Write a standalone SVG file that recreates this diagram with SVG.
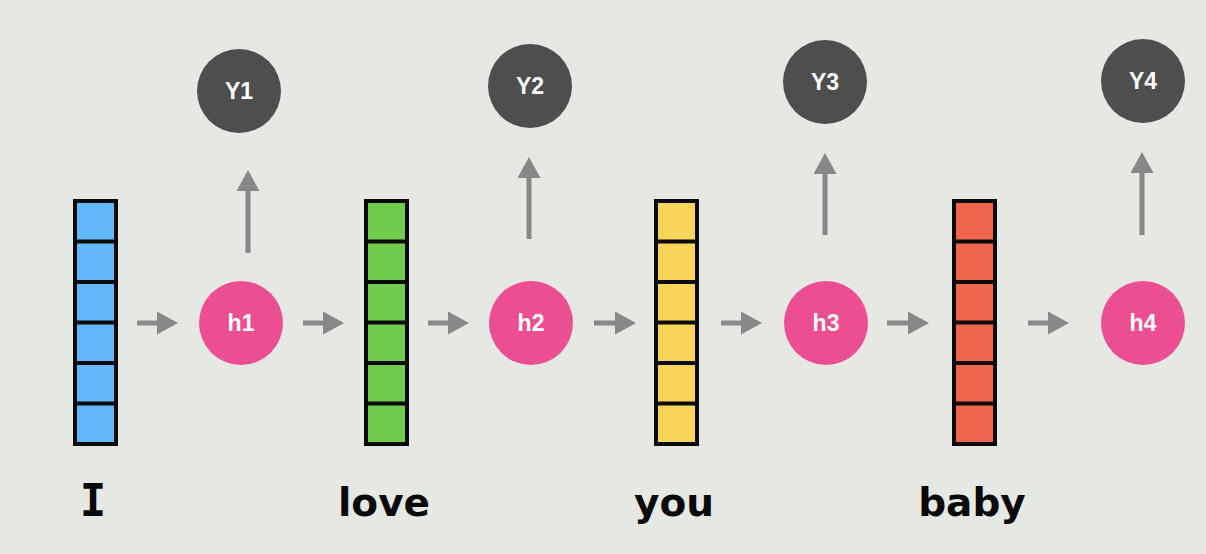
<svg xmlns="http://www.w3.org/2000/svg" width="1206" height="554" viewBox="0 0 1206 554">
<defs>
<marker id="ah" markerUnits="userSpaceOnUse" markerWidth="22" markerHeight="23" refX="3" refY="11.5" orient="auto">
<path d="M0,0 L21,11.5 L0,23 z" fill="#888888"/>
</marker>
<style>
.conn{stroke:#888888;stroke-width:5;fill:none;marker-end:url(#ah)}
.cell{stroke:#0a0a0a;stroke-width:4}
.div{stroke:#0a0a0a;stroke-width:4}
.h{fill:#ec4f91}
.y{fill:#4e4e4e}
.ct{font-family:"Liberation Sans",Arial,sans-serif;font-weight:bold;font-size:23px;fill:#ffffff;text-anchor:middle;dominant-baseline:central}
.w{font-family:"DejaVu Sans","Noto Sans",sans-serif;font-weight:bold;font-size:39px;fill:#0a0a0a;text-anchor:middle}
.wi{font-family:"DejaVu Sans Mono","Liberation Mono",monospace;font-weight:bold;font-size:44px;fill:#0a0a0a;text-anchor:middle}
</style>
<g id="vec">
<rect class="cell" x="2" y="2" width="41" height="243"/>
<line class="div" x1="2" y1="42.5" x2="43" y2="42.5"/>
<line class="div" x1="2" y1="83" x2="43" y2="83"/>
<line class="div" x1="2" y1="123.5" x2="43" y2="123.5"/>
<line class="div" x1="2" y1="164" x2="43" y2="164"/>
<line class="div" x1="2" y1="204.5" x2="43" y2="204.5"/>
</g>
</defs>
<rect width="1206" height="554" fill="#e6e8e3"/>

<g id="connectors">
<line class="conn" x1="137" y1="323" x2="160" y2="323"/>
<line class="conn" x1="303" y1="323" x2="326" y2="323"/>
<line class="conn" x1="428" y1="323" x2="451" y2="323"/>
<line class="conn" x1="594" y1="323" x2="618" y2="323"/>
<line class="conn" x1="721" y1="323" x2="744" y2="323"/>
<line class="conn" x1="887" y1="323" x2="911" y2="323"/>
<line class="conn" x1="1028" y1="323" x2="1051" y2="323"/>
<line class="conn" x1="248" y1="253" x2="248" y2="188"/>
<line class="conn" x1="529" y1="239" x2="529" y2="175"/>
<line class="conn" x1="825" y1="235" x2="825" y2="171"/>
<line class="conn" x1="1142" y1="235" x2="1142" y2="170"/>
</g>

<g id="x1"><use href="#vec" x="73" y="199" fill="#62b8f8"/><text class="wi" x="93" y="516">I</text></g>
<g id="x2"><use href="#vec" x="364" y="199" fill="#72cb4c"/><text class="w" x="384" y="516">love</text></g>
<g id="x3"><use href="#vec" x="654" y="199" fill="#f9d45a"/><text class="w" x="674" y="516">you</text></g>
<g id="x4"><use href="#vec" x="952" y="199" fill="#ef654e"/><text class="w" x="972" y="516">baby</text></g>

<g id="h1"><circle class="h" cx="241" cy="323" r="42"/><text class="ct" x="241" y="323">h1</text></g>
<g id="h2"><circle class="h" cx="531" cy="323" r="42"/><text class="ct" x="531" y="323">h2</text></g>
<g id="h3"><circle class="h" cx="826" cy="323" r="42"/><text class="ct" x="826" y="323">h3</text></g>
<g id="h4"><circle class="h" cx="1143" cy="323" r="42"/><text class="ct" x="1143" y="323">h4</text></g>

<g id="Y1"><circle class="y" cx="239" cy="91" r="42"/><text class="ct" x="239" y="91">Y1</text></g>
<g id="Y2"><circle class="y" cx="530" cy="86" r="42"/><text class="ct" x="530" y="86">Y2</text></g>
<g id="Y3"><circle class="y" cx="825" cy="82" r="42"/><text class="ct" x="825" y="82">Y3</text></g>
<g id="Y4"><circle class="y" cx="1143" cy="81" r="42"/><text class="ct" x="1143" y="81">Y4</text></g>
</svg>
